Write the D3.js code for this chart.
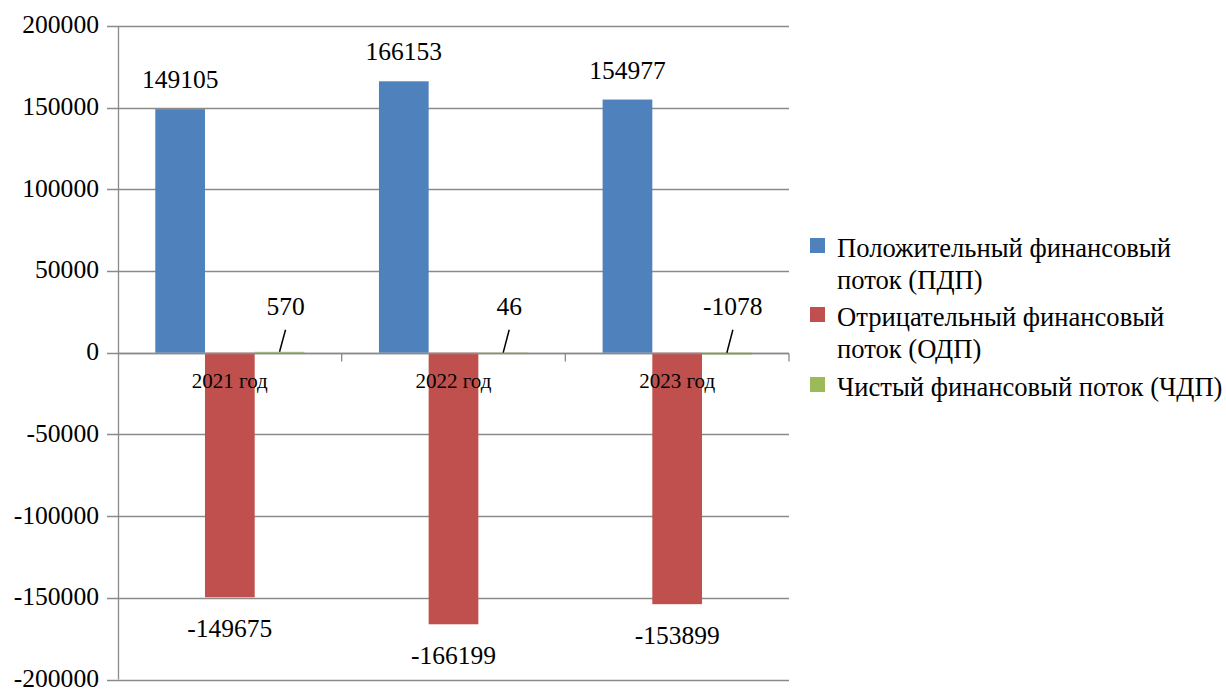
<!DOCTYPE html>
<html><head><meta charset="utf-8">
<script src="https://cdn.jsdelivr.net/npm/d3@7"></script>
<style>body{margin:0;background:#fff}svg{display:block}</style>
</head><body><svg id="c" width="1226" height="689"></svg>
<script>
const categories = ["2021 год", "2022 год", "2023 год"];
const seriesNames = ["Положительный финансовый поток (ПДП)", "Отрицательный финансовый поток (ОДП)", "Чистый финансовый поток (ЧДП)"];
const legendLines = [["Положительный финансовый", "поток (ПДП)"], ["Отрицательный финансовый", "поток (ОДП)"], ["Чистый финансовый поток (ЧДП)"]];
const positive = [149105, 166153, 154977];
const negative = [-149675, -166199, -153899];
const net = [570, 46, -1078];
const yTicks = [-200000, -150000, -100000, -50000, 0, 50000, 100000, 150000, 200000];
const colors = ["#4F81BD", "#C0504D", "#9BBB59"];

const FONT = "'Liberation Serif', 'Times New Roman', serif";
const series = [positive, negative, net];
const svg = d3.select("#c");
const pL = 118, pR = 789, pT = 26, pB = 679.5;
const grid = "#8a8a8a";
const fmt = v => String(v).replace("\u2212", "-");

const y = d3.scaleLinear().domain([-200000, 200000]).range([pB, pT]);
const x0 = d3.scaleBand().domain(categories).range([pL, pR]);
const bw = x0.bandwidth();
const gap = bw * 0.75 / 4.5;
const x1 = d3.scaleBand().domain(d3.range(3)).range([gap, bw - gap]);

function txt(sel, size) {
  return sel.style("font-family", FONT).style("font-size", size + "px").style("fill", "#000");
}

// gridlines
svg.append("g").selectAll("line").data(yTicks).join("line")
  .attr("x1", pL - 11).attr("x2", pR)
  .attr("y1", d => Math.round(y(d)) + 0.5).attr("y2", d => Math.round(y(d)) + 0.5)
  .attr("stroke", grid).attr("stroke-width", 1.3);

// y axis
const yAxis = d3.axisLeft(y).tickValues(yTicks).tickSize(0).tickPadding(0).tickFormat(fmt);
const ga = svg.append("g").attr("transform", `translate(${pL - 19},0)`).call(yAxis);
ga.select(".domain").remove();
txt(ga.selectAll("text"), 25.6).attr("dy", "0.27em");
svg.append("line").attr("x1", pL + 0.5).attr("x2", pL + 0.5).attr("y1", pT).attr("y2", pB)
  .attr("stroke", grid).attr("stroke-width", 1.3);

// bars
categories.forEach((c, i) => {
  series.forEach((s, k) => {
    const v = s[i];
    svg.append("rect")
      .attr("x", x0(c) + x1(k)).attr("width", x1.bandwidth())
      .attr("y", y(Math.max(0, v))).attr("height", Math.max(Math.abs(y(v) - y(0)), 0.5))
      .attr("fill", colors[k]);
  });
});

// zero axis line and ticks
const y0 = Math.round(y(0)) + 0.5;
svg.append("line").attr("x1", pL).attr("x2", pR).attr("y1", y0).attr("y2", y0).attr("stroke", grid).attr("stroke-width", 1.3);
const bounds = categories.map(c => x0(c)).concat([pR]);
svg.append("g").selectAll("line").data(bounds.slice(1)).join("line")
  .attr("x1", d => d).attr("x2", d => d).attr("y1", y0).attr("y2", y0 + 8)
  .attr("stroke", grid).attr("stroke-width", 1.3);

// category labels
txt(svg.append("g").selectAll("text").data(categories).join("text")
  .attr("x", d => x0(d) + bw / 2).attr("y", y(0) + 35)
  .attr("text-anchor", "middle").text(d => d), 21);

// data labels
categories.forEach((c, i) => {
  const cx = k => x0(c) + x1(k) + x1.bandwidth() / 2;
  txt(svg.append("text").attr("x", cx(0)).attr("y", y(positive[i]) - 21)
    .attr("text-anchor", "middle").text(fmt(positive[i])), 25.5);
  txt(svg.append("text").attr("x", cx(1)).attr("y", y(negative[i]) + 40)
    .attr("text-anchor", "middle").text(fmt(negative[i])), 25.5);
  const bx = cx(2);
  svg.append("line").attr("x1", bx).attr("y1", y(Math.max(0, net[i]))).attr("x2", bx + 6).attr("y2", y(0) - 23)
    .attr("stroke", "#000").attr("stroke-width", 1.5);
  txt(svg.append("text").attr("x", bx + 6).attr("y", y(0) - 38)
    .attr("text-anchor", "middle").text(fmt(net[i])), 25.5);
});

// legend
const legY = [257, 326, 396];
legendLines.forEach((lines, k) => {
  svg.append("rect").attr("x", 810).attr("y", legY[k] - 19).attr("width", 15).attr("height", 15).attr("fill", colors[k]);
  lines.forEach((t, j) => {
    txt(svg.append("text").attr("x", 837).attr("y", legY[k] + j * 32).text(t), 26.6);
  });
});
</script></body></html>
